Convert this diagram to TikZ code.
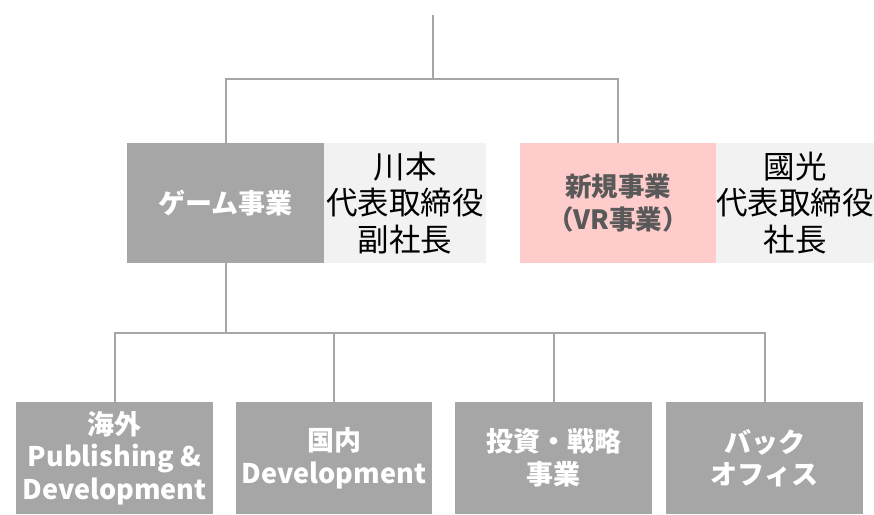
\documentclass[tikz,border=0pt]{standalone}
\usepackage{fontspec}
\newfontfamily\jp{Noto Sans CJK JP}
\definecolor{boxgray}{HTML}{A6A6A6}
\definecolor{namebg}{HTML}{F2F2F2}
\definecolor{pinkbg}{HTML}{FFCCCC}
\definecolor{vrtext}{HTML}{595959}
\begin{document}
\begin{tikzpicture}[x=1pt,y=-1pt,
  conn/.style={draw=boxgray,line width=2pt},
  unitbox/.style={fill=boxgray,text=white,inner sep=0pt,align=center,
    font=\jp\bfseries\fontsize{27}{32.5}\selectfont},
  namebox/.style={fill=namebg,text=black,inner sep=0pt,align=center,
    minimum height=120pt,font=\jp\fontsize{31.5}{36.7}\selectfont},
  vrbox/.style={fill=pinkbg,text=vrtext,inner sep=0pt,align=center,
    minimum width=196pt,minimum height=120pt,
    font=\jp\bfseries\fontsize{26.5}{33}\selectfont}]
\useasboundingbox (0,0) rectangle (874,514);
% top row
\node[unitbox,minimum width=197pt,minimum height=120pt] (game) at (225.5,203) {ゲーム事業};
\node[namebox,minimum width=162pt] (gname) at (405,203) {川本\\代表取締役\\副社長};
\node[vrbox] (vr) at (618,203) {新規事業\\（VR事業）};
\node[namebox,minimum width=158pt] (vname) at (795,203) {國光\\代表取締役\\社長};
% bottom row
\node[unitbox,minimum width=197pt,minimum height=112pt] (b1) at (114.5,458) {海外\\Publishing \&\\Development};
\node[unitbox,minimum width=196pt,minimum height=112pt] (b2) at (334,458) {国内\\Development};
\node[unitbox,minimum width=197pt,minimum height=112pt] (b3) at (553.5,458) {投資・戦略\\事業};
\node[unitbox,minimum width=197pt,minimum height=112pt] (b4) at (764.5,458) {バック\\オフィス};
% connectors
\coordinate (top) at (433,15);
\draw[conn] (top) -- ++(0,64) -| (game.north);
\draw[conn] (top) -- ++(0,64) -| (vr.north);
\draw[conn] (game.south) -- ++(0,70) -| (b1.north);
\draw[conn] (game.south) -- ++(0,70) -| (b2.north);
\draw[conn] (game.south) -- ++(0,70) -| (b3.north);
\draw[conn] (game.south) -- ++(0,70) -| (b4.north);
\end{tikzpicture}
\end{document}
